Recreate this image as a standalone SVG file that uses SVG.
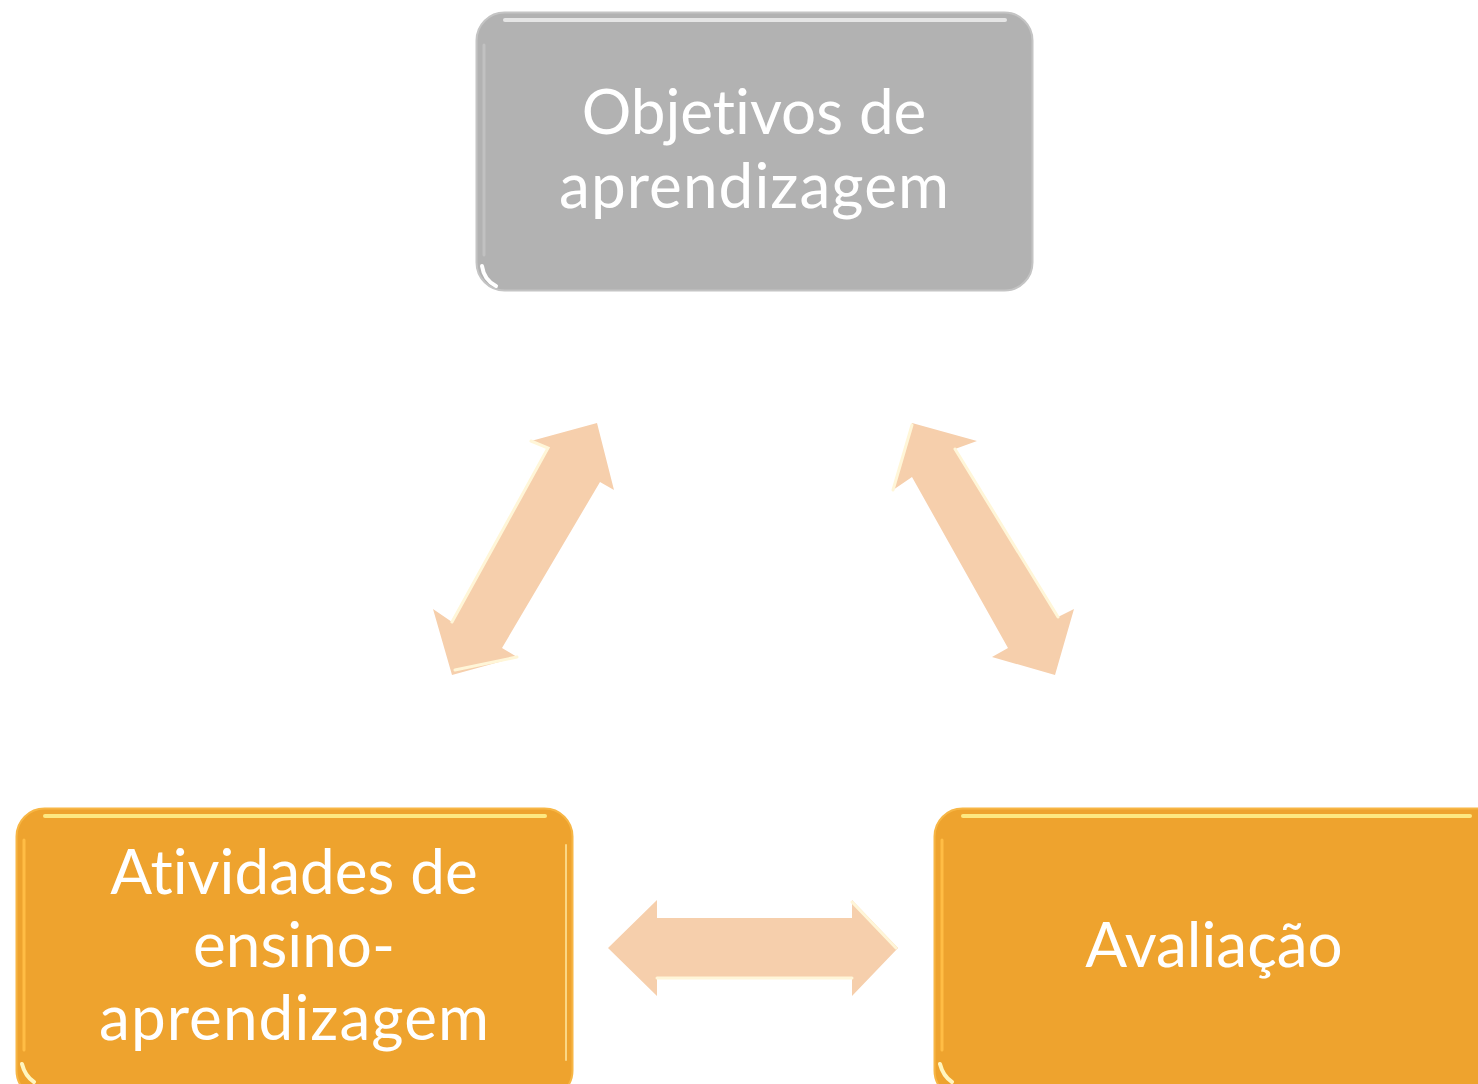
<svg xmlns="http://www.w3.org/2000/svg" width="1478" height="1084" viewBox="0 0 1478 1084">
<defs>
<style>
.lbl{font-family:Lato,"Open Sans","Liberation Sans",sans-serif;font-size:62px;fill:#ffffff;text-anchor:middle;font-variant-ligatures:none;font-feature-settings:"liga" 0}
.arrow{fill:#f6cfac}
.hl{fill:none;stroke:#fff6d8;stroke-width:3;stroke-linecap:round}
</style>
</defs>
<rect width="1478" height="1084" fill="#ffffff"/>

<g id="node-objetivos">
<rect x="476.500" y="12.500" width="556" height="278" rx="28" fill="#b2b2b2" stroke="#c4c4c4" stroke-width="2"/>
<line x1="505" y1="20" x2="1005" y2="20" stroke="#f2f2f2" stroke-width="4" stroke-linecap="round" opacity=".8"/>
<line x1="484" y1="45" x2="484" y2="255" stroke="#c8c8c8" stroke-width="3" stroke-linecap="round" opacity=".7"/>
<path d="M482,266 Q484,280 496,286" fill="none" stroke="#ffffff" stroke-width="4" stroke-linecap="round"/>
<text class="lbl" x="754" y="134">Objetivos de</text>
<text class="lbl" x="754" y="208" textLength="390" lengthAdjust="spacing">aprendizagem</text>
</g>

<g id="node-atividades">
<rect x="16.500" y="808.500" width="556" height="290" rx="28" fill="#eea32e" stroke="#f7b645" stroke-width="2"/>
<line x1="45" y1="816" x2="545" y2="816" stroke="#fff08a" stroke-width="4" stroke-linecap="round" opacity=".9"/>
<line x1="24" y1="840" x2="24" y2="1050" stroke="#ffbd45" stroke-width="3" stroke-linecap="round"/>
<line x1="566" y1="845" x2="566" y2="1060" stroke="#ffe49a" stroke-width="2" stroke-linecap="round" opacity=".8"/>
<path d="M22,1064 Q25,1076 34,1082" fill="none" stroke="#fff6c0" stroke-width="4" stroke-linecap="round"/>
<text class="lbl" x="294" y="894">Atividades de</text>
<text class="lbl" x="294" y="967">ensino-</text>
<text class="lbl" x="294" y="1040" textLength="390" lengthAdjust="spacing">aprendizagem</text>
</g>

<g id="node-avaliacao">
<rect x="934.500" y="808.500" width="580" height="290" rx="28" fill="#eea32e" stroke="#f7b645" stroke-width="2"/>
<line x1="963" y1="816" x2="1470" y2="816" stroke="#fff08a" stroke-width="4" stroke-linecap="round" opacity=".9"/>
<line x1="942" y1="840" x2="942" y2="1050" stroke="#ffbd45" stroke-width="3" stroke-linecap="round"/>
<path d="M940,1064 Q943,1076 952,1082" fill="none" stroke="#fff6c0" stroke-width="4" stroke-linecap="round"/>
<text class="lbl" x="1214" y="967">Avaliação</text>
</g>

<g id="connectors">
<g id="arrow-left">
<polygon class="arrow" points="597,423 614,490 600,482 502,648 517,657 452,675 433,609 452,622 548,448 531,441"/>
<polyline class="hl" points="531,441 548,448 452,622"/>
<polyline class="hl" points="455,670 517,657"/>
</g>
<g id="arrow-right">
<polygon class="arrow" points="912,423 977,441 955,449 1058,617 1074,609 1055,675 992,657 1008,648 912,477 893,490"/>
<polyline class="hl" points="955,449 1058,617"/>
<polyline class="hl" points="912,425 893,490"/>
</g>
<g id="arrow-bottom">
<polygon class="arrow" points="608,948 657,900 657,918 852,918 852,900 898,948 852,996 852,978 657,978 657,996"/>
<polyline class="hl" points="657,978 852,978"/>
<polyline class="hl" points="852,902 896,948"/>
</g>
</g>
</svg>
